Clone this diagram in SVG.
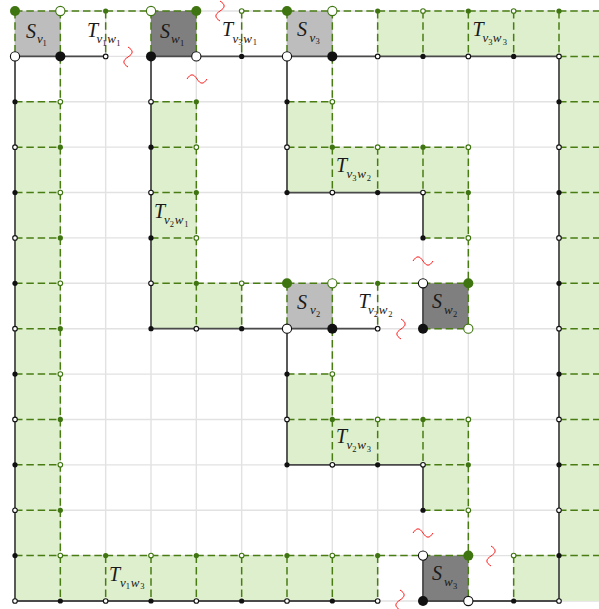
<svg xmlns="http://www.w3.org/2000/svg" width="599" height="609" viewBox="0 0 599 609">
<style>
.grid{stroke:#e2e2e2;stroke-width:1.4;fill:none}
.gr{fill:#ddefcc;stroke:none}
.lg{fill:#bdbdbd;stroke:none}
.dg{fill:#7f7f7f;stroke:none}
.da{stroke:#4a7c14;stroke-width:1.5;fill:none;stroke-dasharray:7.5 3.83}
.so{stroke:#4a4a4a;stroke-width:1.8;fill:none}
.bs{fill:#111}
.bh{fill:#fff;stroke:#111;stroke-width:1.1}
.gs{fill:#3f7510}
.gh{fill:#fff;stroke:#3f7510;stroke-width:1.1}
.L{font-family:"Liberation Serif","DejaVu Serif",serif;font-style:italic;font-size:20px;fill:#1a1a1a}
.s1{font-size:13px}
.s2{font-size:8.5px;font-style:normal}
.sq{fill:none;stroke:#ff1a1a;stroke-width:1}
</style>
<defs>
<path id="sqh" d="M-10,0 C-6.5,-5.5 -3.5,-5.5 0,0 S6.5,5.5 10,0"/>
</defs>
<rect width="599" height="609" fill="#fff"/>
<g id="grid" class="grid">
<path d="M15,11V601M60.33,11V601M105.67,11V601M151,11V601M196.33,11V601M241.67,11V601M287,11V601M332.33,11V601M377.67,11V601M423,11V601M468.33,11V601M513.67,11V601M559,11V601"/>
<path d="M15,11H599M15,56.38H599M15,101.77H599M15,147.15H599M15,192.54H599M15,237.92H599M15,283.3H599M15,328.69H599M15,374.08H599M15,419.46H599M15,464.85H599M15,510.23H599M15,555.62H599M15,601H599"/>
</g>
<g id="T_v1w3" class="gr">
<rect x="15" y="101.77" width="45.33" height="453.85"/>
<rect x="15" y="555.62" width="362.67" height="45.38"/>
</g>
<g id="T_v3w3" class="gr">
<rect x="377.67" y="11" width="221.33" height="45.38"/>
<rect x="559" y="56.38" width="40" height="544.62"/>
<rect x="513.67" y="555.62" width="45.33" height="45.38"/>
</g>
<g id="T_v2w1" class="gr">
<rect x="151" y="101.77" width="45.33" height="226.92"/>
<rect x="196.33" y="283.3" width="45.34" height="45.39"/>
</g>
<g id="T_v3w2" class="gr">
<rect x="287" y="101.77" width="45.33" height="45.38"/>
<rect x="287" y="147.15" width="181.33" height="45.39"/>
<rect x="423" y="192.54" width="45.33" height="45.38"/>
</g>
<g id="T_v2w3" class="gr">
<rect x="287" y="374.08" width="45.33" height="45.38"/>
<rect x="287" y="419.46" width="181.33" height="45.39"/>
<rect x="423" y="464.85" width="45.33" height="45.38"/>
</g>
<g id="S_v1"><rect class="lg" x="15" y="11" width="45.33" height="45.38"/></g>
<g id="S_w1"><rect class="dg" x="151" y="11" width="45.33" height="45.38"/></g>
<g id="S_v3"><rect class="lg" x="287" y="11" width="45.33" height="45.38"/></g>
<g id="S_v2"><rect class="lg" x="287" y="283.3" width="45.33" height="45.39"/></g>
<g id="S_w2"><rect class="dg" x="423" y="283.3" width="45.33" height="45.39"/></g>
<g id="S_w3"><rect class="dg" x="423" y="555.62" width="45.33" height="45.38"/></g>
<g id="connectors">
<path class="da" d="M15,11H196.33M241.67,11H599M15,11V56.38M60.33,11V555.62M105.67,11V56.38M151,11V56.38M196.33,11V56.38M241.67,11V56.38M287,11V56.38M332.33,11V192.54M377.67,11V56.38M423,11V56.38M468.33,11V56.38M513.67,11V56.38M559,11V56.38
M15,101.77H60.33M15,147.15H60.33M15,192.54H60.33M15,237.92H60.33M15,283.3H60.33M15,328.69H60.33M15,374.08H60.33M15,419.46H60.33M15,464.85H60.33M15,510.23H60.33
M15,555.62H468.33M513.67,555.62H599
M60.33,555.62V601M105.67,555.62V601M151,555.62V601M196.33,555.62V601M241.67,555.62V601M287,555.62V601M332.33,555.62V601M377.67,555.62V601M513.67,555.62V601
M559,56.38H599M559,101.77H599M559,147.15H599M559,192.54H599M559,237.92H599M559,283.3H599M559,328.69H599M559,374.08H599M559,419.46H599M559,464.85H599M559,510.23H599
M151,101.77H196.33M196.33,101.77V328.69M151,147.15H196.33M151,192.54H196.33M151,237.92H196.33M151,283.3H468.33M241.67,283.3V328.69
M287,101.77H332.33M287,147.15H468.33M377.67,147.15V192.54M423,147.15V192.54M468.33,147.15V328.69M423,192.54H468.33M423,237.92H468.33
M287,283.3V328.69M332.33,283.3V464.85M377.67,283.3V328.69M423,328.69H468.33
M287,374.08H332.33M287,419.46H468.33M377.67,419.46V464.85M423,419.46V464.85M423,464.85H468.33M423,510.23H468.33M468.33,419.46V601"/>
<path class="so" d="M15,56.38H105.67M151,56.38H559M15,56.38V601M559,56.38V601M15,601H377.67M423,601H559M151,56.38V328.69M151,328.69H377.67M287,56.38V192.54M287,192.54H423M423,192.54V237.92M423,283.3V328.69M287,328.69V464.85M287,464.85H423M423,464.85V510.23M423,555.62V601"/>
</g>
<g id="dots">
<circle class="gs" cx="15" cy="11" r="5"/>
<circle class="bh" cx="15" cy="56.38" r="4.6"/>
<circle class="bs" cx="15" cy="101.77" r="2.6"/><circle class="bh" cx="15" cy="147.15" r="2.3"/><circle class="bs" cx="15" cy="192.54" r="2.6"/><circle class="bh" cx="15" cy="237.92" r="2.3"/><circle class="bs" cx="15" cy="283.3" r="2.6"/><circle class="bh" cx="15" cy="328.69" r="2.3"/><circle class="bs" cx="15" cy="374.08" r="2.6"/><circle class="bh" cx="15" cy="419.46" r="2.3"/><circle class="bs" cx="15" cy="464.85" r="2.6"/><circle class="bh" cx="15" cy="510.23" r="2.3"/><circle class="bs" cx="15" cy="555.62" r="2.6"/><circle class="bh" cx="15" cy="601" r="2.3"/>
<circle class="gh" cx="60.33" cy="11" r="4.6"/>
<circle class="bs" cx="60.33" cy="56.38" r="5"/>
<circle class="gh" cx="60.33" cy="101.77" r="2.3"/><circle class="gs" cx="60.33" cy="147.15" r="2.6"/><circle class="gh" cx="60.33" cy="192.54" r="2.3"/><circle class="gs" cx="60.33" cy="237.92" r="2.6"/><circle class="gh" cx="60.33" cy="283.3" r="2.3"/><circle class="gs" cx="60.33" cy="328.69" r="2.6"/><circle class="gh" cx="60.33" cy="374.08" r="2.3"/><circle class="gs" cx="60.33" cy="419.46" r="2.6"/><circle class="gh" cx="60.33" cy="464.85" r="2.3"/><circle class="gs" cx="60.33" cy="510.23" r="2.6"/><circle class="gh" cx="60.33" cy="555.62" r="2.3"/><circle class="bs" cx="60.33" cy="601" r="2.6"/>
<circle class="gs" cx="105.67" cy="11" r="2.6"/><circle class="bh" cx="105.67" cy="56.38" r="2.3"/><circle class="gs" cx="105.67" cy="555.62" r="2.6"/><circle class="bh" cx="105.67" cy="601" r="2.3"/>
<circle class="gh" cx="151" cy="11" r="4.6"/><circle class="bs" cx="151" cy="56.38" r="5"/>
<circle class="bh" cx="151" cy="101.77" r="2.3"/><circle class="bs" cx="151" cy="147.15" r="2.6"/><circle class="bh" cx="151" cy="192.54" r="2.3"/><circle class="bs" cx="151" cy="237.92" r="2.6"/><circle class="bh" cx="151" cy="283.3" r="2.3"/><circle class="bs" cx="151" cy="328.69" r="2.6"/><circle class="gh" cx="151" cy="555.62" r="2.3"/><circle class="bs" cx="151" cy="601" r="2.6"/>
<circle class="gs" cx="196.33" cy="11" r="5"/><circle class="bh" cx="196.33" cy="56.38" r="4.6"/>
<circle class="gs" cx="196.33" cy="101.77" r="2.6"/><circle class="gh" cx="196.33" cy="147.15" r="2.3"/><circle class="gs" cx="196.33" cy="192.54" r="2.6"/><circle class="gh" cx="196.33" cy="237.92" r="2.3"/><circle class="gs" cx="196.33" cy="283.3" r="2.6"/><circle class="bh" cx="196.33" cy="328.69" r="2.3"/><circle class="gs" cx="196.33" cy="555.62" r="2.6"/><circle class="bh" cx="196.33" cy="601" r="2.3"/>
<circle class="gh" cx="241.67" cy="11" r="2.3"/><circle class="bs" cx="241.67" cy="56.38" r="2.6"/><circle class="gh" cx="241.67" cy="283.3" r="2.3"/><circle class="bs" cx="241.67" cy="328.69" r="2.6"/><circle class="gh" cx="241.67" cy="555.62" r="2.3"/><circle class="bs" cx="241.67" cy="601" r="2.6"/>
<circle class="gs" cx="287" cy="11" r="5"/><circle class="bh" cx="287" cy="56.38" r="4.6"/><circle class="bs" cx="287" cy="101.77" r="2.6"/><circle class="bh" cx="287" cy="147.15" r="2.3"/><circle class="bs" cx="287" cy="192.54" r="2.6"/>
<circle class="gs" cx="287" cy="283.3" r="5"/><circle class="bh" cx="287" cy="328.69" r="4.6"/><circle class="bs" cx="287" cy="374.08" r="2.6"/><circle class="bh" cx="287" cy="419.46" r="2.3"/><circle class="bs" cx="287" cy="464.85" r="2.6"/><circle class="gs" cx="287" cy="555.62" r="2.6"/><circle class="bh" cx="287" cy="601" r="2.3"/>
<circle class="gh" cx="332.33" cy="11" r="4.6"/><circle class="bs" cx="332.33" cy="56.38" r="5"/><circle class="gh" cx="332.33" cy="101.77" r="2.3"/><circle class="gs" cx="332.33" cy="147.15" r="2.6"/><circle class="bh" cx="332.33" cy="192.54" r="2.3"/>
<circle class="gh" cx="332.33" cy="283.3" r="4.6"/><circle class="bs" cx="332.33" cy="328.69" r="5"/><circle class="gh" cx="332.33" cy="374.08" r="2.3"/><circle class="gs" cx="332.33" cy="419.46" r="2.6"/><circle class="bh" cx="332.33" cy="464.85" r="2.3"/><circle class="gh" cx="332.33" cy="555.62" r="2.3"/><circle class="bs" cx="332.33" cy="601" r="2.6"/>
<circle class="gs" cx="377.67" cy="11" r="2.6"/><circle class="bh" cx="377.67" cy="56.38" r="2.3"/><circle class="gh" cx="377.67" cy="147.15" r="2.3"/><circle class="bs" cx="377.67" cy="192.54" r="2.6"/><circle class="gs" cx="377.67" cy="283.3" r="2.6"/><circle class="bh" cx="377.67" cy="328.69" r="2.3"/><circle class="gh" cx="377.67" cy="419.46" r="2.3"/><circle class="bs" cx="377.67" cy="464.85" r="2.6"/><circle class="gs" cx="377.67" cy="555.62" r="2.6"/><circle class="bh" cx="377.67" cy="601" r="2.3"/>
<circle class="gh" cx="423" cy="11" r="2.3"/><circle class="bs" cx="423" cy="56.38" r="2.6"/><circle class="gs" cx="423" cy="147.15" r="2.6"/><circle class="bh" cx="423" cy="192.54" r="2.3"/><circle class="bs" cx="423" cy="237.92" r="2.6"/><circle class="bh" cx="423" cy="283.3" r="4.6"/><circle class="bs" cx="423" cy="328.69" r="5"/><circle class="gs" cx="423" cy="419.46" r="2.6"/><circle class="bh" cx="423" cy="464.85" r="2.3"/><circle class="bs" cx="423" cy="510.23" r="2.6"/><circle class="bh" cx="423" cy="555.62" r="4.6"/><circle class="bs" cx="423" cy="601" r="5"/>
<circle class="gs" cx="468.33" cy="11" r="2.6"/><circle class="bh" cx="468.33" cy="56.38" r="2.3"/><circle class="gh" cx="468.33" cy="147.15" r="2.3"/><circle class="gs" cx="468.33" cy="192.54" r="2.6"/><circle class="gh" cx="468.33" cy="237.92" r="2.3"/><circle class="gs" cx="468.33" cy="283.3" r="5"/><circle class="gh" cx="468.33" cy="328.69" r="4.6"/><circle class="gh" cx="468.33" cy="419.46" r="2.3"/><circle class="gs" cx="468.33" cy="464.85" r="2.6"/><circle class="gh" cx="468.33" cy="510.23" r="2.3"/><circle class="gs" cx="468.33" cy="555.62" r="5"/><circle class="bh" cx="468.33" cy="601" r="4.6"/>
<circle class="gh" cx="513.67" cy="11" r="2.3"/><circle class="bs" cx="513.67" cy="56.38" r="2.6"/><circle class="gh" cx="513.67" cy="555.62" r="2.3"/><circle class="bs" cx="513.67" cy="601" r="2.6"/>
<circle class="gs" cx="559" cy="11" r="2.6"/><circle class="bh" cx="559" cy="56.38" r="2.3"/><circle class="bs" cx="559" cy="101.77" r="2.6"/><circle class="bh" cx="559" cy="147.15" r="2.3"/><circle class="bs" cx="559" cy="192.54" r="2.6"/><circle class="bh" cx="559" cy="237.92" r="2.3"/><circle class="bs" cx="559" cy="283.3" r="2.6"/><circle class="bh" cx="559" cy="328.69" r="2.3"/><circle class="bs" cx="559" cy="374.08" r="2.6"/><circle class="bh" cx="559" cy="419.46" r="2.3"/><circle class="bs" cx="559" cy="464.85" r="2.6"/><circle class="bh" cx="559" cy="510.23" r="2.3"/><circle class="bs" cx="559" cy="555.62" r="2.6"/><circle class="bh" cx="559" cy="601" r="2.3"/>
</g>
<g id="labels" class="L">
<text x="26" y="38">S<tspan class="s1" x="37" y="43">v</tspan><tspan class="s2" x="42.5" y="45.5">1</tspan></text>
<text x="87" y="36.5">T<tspan class="s1" x="96.5" y="43">v</tspan><tspan class="s2" x="102.3" y="45.5">1</tspan><tspan class="s1" x="107.2" y="43">w</tspan><tspan class="s2" x="116.3" y="45.5">1</tspan></text>
<text x="160" y="38">S<tspan class="s1" x="171" y="43">w</tspan><tspan class="s2" x="180" y="45.5">1</tspan></text>
<text x="222" y="36">T<tspan class="s1" x="232.5" y="42.5">v</tspan><tspan class="s2" x="238.3" y="45">3</tspan><tspan class="s1" x="243.2" y="42.5">w</tspan><tspan class="s2" x="252.8" y="45">1</tspan></text>
<text x="297" y="36">S<tspan class="s1" x="309.5" y="41.5">v</tspan><tspan class="s2" x="315.5" y="44">3</tspan></text>
<text x="472.5" y="35.5">T<tspan class="s1" x="482.5" y="42">v</tspan><tspan class="s2" x="488.2" y="44.5">3</tspan><tspan class="s1" x="492.8" y="42">w</tspan><tspan class="s2" x="502.8" y="44.5">3</tspan></text>
<text x="336" y="172">T<tspan class="s1" x="346.5" y="178">v</tspan><tspan class="s2" x="352.3" y="180.5">3</tspan><tspan class="s1" x="357.2" y="178">w</tspan><tspan class="s2" x="366.8" y="180.5">2</tspan></text>
<text x="154" y="218">T<tspan class="s1" x="164" y="224">v</tspan><tspan class="s2" x="169.8" y="226.5">2</tspan><tspan class="s1" x="174.7" y="224">w</tspan><tspan class="s2" x="184.3" y="226.5">1</tspan></text>
<text x="297" y="309">S<tspan class="s1" x="310" y="314">v</tspan><tspan class="s2" x="316" y="316.5">2</tspan></text>
<text x="358.5" y="308">T<tspan class="s1" x="368" y="314">v</tspan><tspan class="s2" x="373.8" y="316.5">2</tspan><tspan class="s1" x="378.7" y="314">w</tspan><tspan class="s2" x="388.3" y="316.5">2</tspan></text>
<text x="432" y="308">S<tspan class="s1" x="444" y="314">w</tspan><tspan class="s2" x="453" y="316.5">2</tspan></text>
<text x="336" y="443">T<tspan class="s1" x="346.5" y="449">v</tspan><tspan class="s2" x="352.3" y="451.5">2</tspan><tspan class="s1" x="357.2" y="449">w</tspan><tspan class="s2" x="366.8" y="451.5">3</tspan></text>
<text x="109" y="581">T<tspan class="s1" x="120" y="586.5">v</tspan><tspan class="s2" x="125.8" y="589">1</tspan><tspan class="s1" x="130.7" y="586.5">w</tspan><tspan class="s2" x="140.3" y="589">3</tspan></text>
<text x="432" y="580">S<tspan class="s1" x="444" y="586">w</tspan><tspan class="s2" x="453" y="588.5">3</tspan></text>
</g>
<g id="breaks" class="sq">
<use href="#sqh" transform="translate(128,57) rotate(90)"/>
<use href="#sqh" transform="translate(220,11) rotate(90)"/>
<use href="#sqh" transform="translate(197,79)"/>
<use href="#sqh" transform="translate(423,261)"/>
<use href="#sqh" transform="translate(401,329) rotate(90)"/>
<use href="#sqh" transform="translate(423,533)"/>
<use href="#sqh" transform="translate(491,556) rotate(90)"/>
<use href="#sqh" transform="translate(400,600) rotate(90)"/>
</g>
</svg>
